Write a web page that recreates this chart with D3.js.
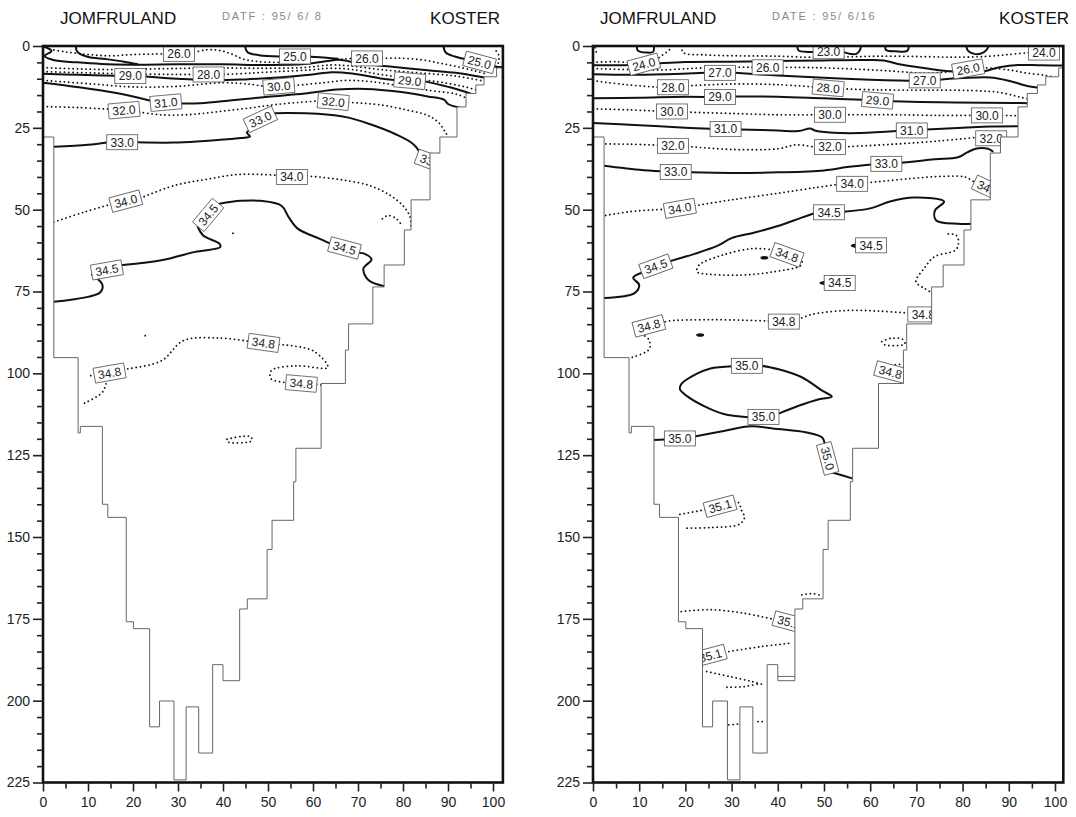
<!DOCTYPE html>
<html>
<head>
<meta charset="utf-8">
<script src="https://cdnjs.cloudflare.com/ajax/libs/d3/7.8.5/d3.min.js"></script>
<style>
body { margin: 0; background: #fff; }
svg { display: block; }
text { font-family: "Liberation Sans", Arial, Helvetica, sans-serif; }
</style>
</head>
<body>
<svg id="chart" width="1076" height="817"></svg>
<script>
// axis ticks
var xTicks = [0, 10, 20, 30, 40, 50, 60, 70, 80, 90, 100];
var xMinorTicks = [5, 15, 25, 35, 45, 55, 65, 75, 85, 95];
var yTicks = [0, 25, 50, 75, 100, 125, 150, 175, 200, 225];
var yMinorTicks = d3.range(0, 226, 5).filter(function(d) { return d % 25 !== 0; });

// bottom profile (step after): distance and depth of each step
var bottomX =     [0, 2.4, 7.8, 8.3, 13.2, 14.4, 18.5, 20.1, 23.7, 25.9, 29.1, 31.8, 34.6, 37.7, 40, 43.7, 45.4, 49.8, 50.9, 55.7, 56.2, 61.8, 67.2,
                   67.9, 73.3, 75.8, 80.3, 81.8, 86.0, 88.2, 92.0, 94.0, 96.2, 98.0, 100.8, 103];
var bottomDepth = [27.8, 95.2, 118.2, 116.2, 140, 144, 175.9, 178, 208, 200.1, 224.2, 201.9, 216, 189, 193.9, 172, 168.9, 153.8, 144.9, 133.1, 122.9, 103.1, 92.9,
                   84.9, 73.6, 66.9, 56.2, 47, 32.7, 27.8, 18.6, 14.5, 11.9, 9.4, 6.7, 6.7];

// 95/6/8 isohalines: [style, points]  s = solid, d = dotted
var june08Lines = [
  ["s", [[0.4,0.3],[1.9,1.5],[0.4,3.0],[2.3,4.3],[7.5,5.0],[13,5.5],[20,5.7],[30,5.6],[40,5.6],[50,5.8],[58.2,5.5],[64.1,4.4],[65.8,4.2],[70.8,5.4],[78.1,6.4],[85.5,7.4],[91.7,8.2],[95.5,9.0],[98.6,9.8]]],
  ["s", [[7.3,0],[7.6,1.7],[9.9,3.3],[14,4.0],[18,4.8],[21,5.6]]],
  ["s", [[44.9,0],[45.4,1.8],[48,2.8],[52.6,3.2]]],
  ["s", [[59.4,3.3],[63,3.6],[65.5,3.9]]],
  ["s", [[89,0],[89.5,2.0],[91.5,3.2],[93.9,4.0]]],
  ["s", [[100.1,6.1],[101,6.4],[103,6.4]]],
  ["d", [[1.5,1.0],[5,1.8],[10,2.6],[15,3.0],[20,2.6],[26.8,2.4]]],
  ["d", [[33.6,2.0],[36,1.2],[39,1.3],[42,2.5],[44.5,4.0],[48,4.8],[53,5.0]]],
  ["d", [[64.5,4.4],[66.5,4.0],[68.6,3.8]]],
  ["d", [[75.4,3.8],[79,3.7],[84,4.2],[88,5.2],[92,6.3],[96,7.6],[98.5,8.5]]],
  ["d", [[100.8,6.5],[101.3,4.5],[101.2,2.5],[100.5,1.2]]],
  ["d", [[0,6.6],[8,7.0],[16,7.2],[24,7.0],[32,6.8],[40,6.7],[48,6.8],[57.6,6.6],[64.1,5.8],[67.6,6.0],[75,7.2],[83.4,8.2],[91.8,9.2],[97.5,10.6]]],
  ["d", [[0,7.8],[10,8.2],[20,8.5],[30,8.7],[33.4,8.7]]],
  ["d", [[40.2,8.7],[46,8.3],[52.3,7.8],[59.4,7.3],[64.1,6.8],[68.7,7.2],[75,8.7],[81.3,9.9],[87.6,10.9],[93.5,12.4],[96.5,13.5]]],
  ["s", [[0,8.5],[8,8.8],[16,9.1]]],
  ["s", [[22.8,9.3],[30,10],[38,10.5],[45,10.2],[52.3,9.6],[59.4,8.8],[64.1,8.0],[68.7,8.4],[75,9.9],[78.1,10.4]]],
  ["s", [[84.9,10.8],[88,11.8],[92,13.2],[95.5,14.8]]],
  ["d", [[0,10.5],[10,11.5],[20,12.5],[30,12.3],[40,11.2],[46,11.7],[49,12.3]]],
  ["d", [[55.8,12.1],[61.7,11.3],[67.6,10.5],[72.9,10.9],[79.2,12.1],[85.5,13.5],[91.8,14.7],[95,16.5]]],
  ["s", [[0,11.2],[8,12.6],[16,14.3],[23.9,16.7]]],
  ["s", [[30.7,17.6],[35,17.5],[42,16.6],[50,15.5],[58.2,14.5],[65.3,13.3],[71.8,13.1],[79.2,14],[85.5,15.4],[89.1,16.4],[90.1,17.8],[92.5,18.8]]],
  ["d", [[0,18.5],[8,18.8],[14.6,19.3]]],
  ["d", [[21.4,20.2],[26,21],[32,21],[38,20.2],[45,19.1],[52.3,17.8],[61.1,16.8]]],
  ["d", [[67.9,17.2],[75,18],[81,19.6],[85.5,21.2],[88,23.5],[89.5,26.5],[90.5,29]]],
  ["s", [[2.4,30.8],[10,30.2],[14.2,29.5]]],
  ["s", [[21,29.4],[29,29.5],[35,29.1],[40.1,28.6],[44,28.1],[46,27.6],[45.3,26.5],[46.5,25.4]]],
  ["s", [[50.5,20.6],[54.2,20.5],[61,20.7],[67.6,21.8],[72.9,24],[78.1,26.8],[82.3,30],[84.2,33.5]]],
  ["s", [[88.3,37.2],[90,38]]],
  ["d", [[2.4,53.8],[9,50.8],[15.2,48.3]]],
  ["d", [[21.6,46.5],[29,42.7],[36.4,40.7],[43.9,39.2],[52,39.5]]],
  ["d", [[58.7,39.7],[66,40.8],[72.5,42.6],[77,45.5],[80,48.8],[81.5,52],[81.8,56]]],
  ["d", [[75.4,52.8],[76.6,51.8],[78.4,52.6],[79.6,54.5]]],
  ["s", [[39.2,48.2],[43.9,47.3],[48.3,47.3],[53,48.8],[54.6,52.3],[56.6,55.8],[61.5,58.9],[63.6,60.2]]],
  ["s", [[70.4,63.2],[71.5,63.5],[73,65.2],[71.2,68],[72.3,71.5],[76.5,73.6]]],
  ["s", [[34.4,55.3],[35.6,57.9],[39.2,60.4],[39.4,61.4],[33.8,62.9],[26.6,65.4],[17.7,66.9]]],
  ["s", [[10.9,69.9],[13.2,72.9],[12.6,75.4],[2.4,78.1]]],
  ["d", [[10.6,100.7],[11,100.5]]],
  ["d", [[17.9,98.8],[19.5,98.5],[26.4,96.1],[31.2,90],[39,89.2],[45.6,90.2]]],
  ["d", [[52.4,91.2],[60,93.1],[63.3,98.2],[56.3,97.7],[50.7,99.2],[50.7,101.7],[54,102.8]]],
  ["d", [[60.8,103.4],[62.5,103.7]]],
  ["d", [[14,103.2],[13.2,105.8],[8.8,109.4]]],
  ["d", [[40.9,120.1],[46.1,119.3],[46.4,120.6],[40.9,120.9],[40.9,120.1]]],
  ["d", [[22.7,88.5],[22.8,88.5]]],
  ["d", [[42.2,57.2],[43,57.8]]]
];
// 95/6/8 labels: [text, x, depth, angle]
var june08Labels = [
  ["26.0", 30.2, 2.4, 0], ["25.0", 56, 3.2, 0], ["26.0", 72, 3.8, 0], ["25.0", 97, 5.0, 15],
  ["29.0", 19.4, 9.2, 0], ["28.0", 36.8, 8.7, 0], ["30.0", 52.4, 12.3, -5], ["29.0", 81.5, 10.6, 5],
  ["31.0", 27.3, 17.3, -5], ["32.0", 18, 19.6, -5], ["32.0", 64.5, 17, 5], ["33.0", 48.3, 22.4, -25],
  ["33.0", 17.6, 29.4, 0], ["33.0", 86.3, 35.3, 20], ["34.0", 55.3, 40, 0], ["34.0", 18.4, 47.4, -15],
  ["34.5", 36.7, 51.6, -50], ["34.5", 67, 61.7, 15], ["34.5", 14.2, 68.4, -10],
  ["34.8", 49, 90.7, 8], ["34.8", 14.8, 99.9, -10], ["34.8", 57.4, 103.1, 5]
];

// 95/6/16 isohalines
var june16Lines = [
  ["d", [[0.5,0.5],[0.8,2.5]]],
  ["d", [[0,5],[5,4.8],[8.2,5.1]]],
  ["d", [[13.6,4.4],[15,2.8],[16.5,1.2],[17,0]]],
  ["d", [[19.2,0],[19.5,2],[24,2.7],[32,3],[40,3.1],[46,3.4],[50,3.3],[56,3.3],[62,3.1],[70,3.2],[78,3.4],[85,3.2],[90,2.6],[94.5,2.0]]],
  ["s", [[44.2,0],[44.5,1.4],[46.5,1.8],[47.8,1.8]]],
  ["s", [[54.2,1.8],[55.5,2.4],[57,2.4],[57.8,1.2],[58,0]]],
  ["s", [[63.3,0],[63.4,1.2],[65.5,1.6],[68,1.5],[68.4,0]]],
  ["s", [[80.8,0],[81.2,1.5],[82.5,2.4],[84,2.3],[85.2,1.2],[85.6,0]]],
  ["s", [[9.5,0],[9.7,1.4],[11.5,2.0],[13,1.8],[13.2,0]]],
  ["s", [[0,5.9],[8,5.8],[14,5.3],[20,4.9],[30,4.8],[40,4.6],[50,4.4],[58,4.3],[63,4.4],[66,5.5],[72,6.8],[78,7.8],[84,7.9],[88,6.5],[92,5.8],[97,5.9],[103,6.0]]],
  ["d", [[0,6.9],[8,7.2],[15,7.3],[22,6.8],[28,6.5],[34.6,6.5]]],
  ["d", [[41,6.5],[48,6.6],[56,7.0],[64,7.6],[72,8.3],[76,8.0],[78.1,7.6]]],
  ["d", [[84.3,6.6],[90,7.3],[94,8.3],[98,9.0],[100,9.6]]],
  ["s", [[0,8.6],[8,8.8],[16,8.6],[24.3,8.2]]],
  ["s", [[30.7,8.2],[40,9],[50,9.7],[60,10.3],[68.6,10.6]]],
  ["s", [[75,10.3],[80,9.8],[86,9.6],[90,10.6],[94,12.2],[97,12.8]]],
  ["d", [[0,10.6],[7,11.8],[14.1,12.6]]],
  ["d", [[20.5,12.2],[30,11.6],[40,11.8],[47.7,12.5]]],
  ["d", [[54.1,13.1],[62,13.4],[72,13.5],[82,13.6],[88,14.2],[93,15.8],[94.5,16.2]]],
  ["s", [[0,16],[10,15.8],[20,15.5],[24.3,15.6]]],
  ["s", [[30.7,15.4],[40,15.5],[50,16],[58.4,16.4]]],
  ["s", [[64.8,16.9],[75,17.2],[85,17.3],[91,17.4],[94.5,17.5]]],
  ["d", [[0,19.2],[8,19.5],[13.9,19.9]]],
  ["d", [[20.3,20.2],[30,20.6],[40,21],[48.1,21]]],
  ["d", [[54.5,21],[65,21],[75,21.2],[82.1,21.2]]],
  ["d", [[88.6,21.2],[92.5,21.3]]],
  ["s", [[0,23.5],[10,24.2],[20,25],[25.5,25.3]]],
  ["s", [[31.9,25.5],[40,25.8],[44.5,26],[47,25.2],[48,25.8],[52,26.5],[58,26.6],[65.8,26]]],
  ["s", [[72.2,25.5],[80,25],[86,24.6],[92.5,24.5]]],
  ["d", [[0,29.9],[8,30],[14.1,30.3]]],
  ["d", [[20.5,30.7],[30,31.6],[40,31.4],[44,30.2],[48.1,30.9]]],
  ["d", [[54.5,30.8],[65,30],[75,29],[82.5,28]]],
  ["s", [[0,36.2],[10,37.8],[14.7,38.3]]],
  ["s", [[21.1,38.6],[30,38.8],[40,38.6],[50,38],[55,37],[60.3,36.2]]],
  ["s", [[66.7,35.7],[74,34.6],[79,34],[81,32.5],[83,31.3],[85.5,31.4],[86.5,32.2]]],
  ["d", [[0,52.5],[8,50.6],[15.6,49.9]]],
  ["d", [[22,48.8],[30,47],[40,45],[48,43.3],[52.9,42.3]]],
  ["d", [[59.3,41.8],[68,40.6],[76,39.8],[80.5,40],[82.5,41.5]]],
  ["s", [[2.4,77],[9,75.5],[10,73],[8.7,70.8],[10.8,69.2]]],
  ["s", [[16.5,65.8],[22,63.5],[27,61],[30,58.7],[35,57],[40,55],[45,52.5],[47.9,51.1]]],
  ["s", [[54.3,50.6],[60,49.6],[64.3,47.5],[69.5,46.3],[76,47.5],[74,50.3],[74.3,53.3],[79,54.3],[82,54.3]]],
  ["s", [[57.3,60.5],[56,61],[57.3,61.5]]],
  ["s", [[50.3,72],[49.2,72.4],[50.3,72.8]]],
  ["d", [[39,62.3],[34.6,61.9],[28,63.9],[22.9,67],[22.5,69],[23.6,69.5],[31.7,70],[39,69],[45,67],[45.3,65.5]]],
  ["d", [[76.9,57.4],[78.7,57.9],[79.1,60.4],[78.4,62.4],[73.9,64.4],[71.7,67.9],[69.9,72],[71.7,74],[73.5,75.5]]],
  ["d", [[68.3,81.6],[62.1,81],[54.8,80.8],[47.4,82],[44.5,83.5]]],
  ["d", [[38,84],[25.4,83.6],[16.5,84],[15,84.5]]],
  ["d", [[9.5,87.5],[12,89.5],[12.2,92.6],[8.5,95.1]]],
  ["d", [[62.5,90.3],[64.5,89.3],[67,89.6],[67.5,91],[64,91.5],[62.5,91]]],
  ["d", [[64.5,97.5],[67,97.2]]],
  ["s", [[36.5,97.7],[40,98.7],[45.2,101.2],[49.6,105.3],[51.7,107.1],[48.9,107.9],[44.5,109.9],[40.2,112.3]]],
  ["s", [[33.6,113.4],[28.3,112.4],[24.6,110.4],[20.2,106.8],[18.8,104.8],[19.1,103.3],[22.4,100.2],[25.4,98.5],[30.1,97.8]]],
  ["s", [[13.2,120.4],[15.6,120.2]]],
  ["s", [[22,119.3],[28.3,117.6],[34.2,116.2],[40,117],[46,118],[49.6,119.6],[50.2,121.5]]],
  ["s", [[51.6,130.2],[52.6,130.6],[56.1,132.1]]],
  ["d", [[18.8,143.1],[24.5,141.6]]],
  ["d", [[30.6,139.1],[31.5,139.5],[32.2,142],[32.8,144],[31.7,146.1],[25.4,147.1],[19.5,147.3]]],
  ["d", [[19.1,172.8],[25.4,172.2],[32.7,173.3],[38.6,175]]],
  ["d", [[29.4,185],[36.4,183.5],[43,182.4]]],
  ["d", [[24.6,191.1],[29.8,192.7],[34.5,194.2],[37.1,195.2]]],
  ["d", [[29,195.9],[32.7,195.7],[35.7,194.9]]],
  ["d", [[29.4,207.4],[32,207.1]]],
  ["d", [[35.7,206.4],[36.8,206.4]]],
  ["d", [[45.2,167.7],[47.4,167.3],[48.9,167.7]]],
  ["t", [[37.9,192.6],[37.9,197.8]]],
  ["t", [[40,192.6],[43.7,192.6]]]
];
var june16Labels = [
  ["23.0", 51, 1.6, 0], ["24.0", 11, 5.6, -15], ["24.0", 97.6, 2.0, 0],
  ["26.0", 37.8, 6.5, 0], ["26.0", 81.2, 7.0, -10], ["27.0", 27.5, 8.2, 0], ["27.0", 71.8, 10.5, 0],
  ["28.0", 17.3, 12.6, 0], ["28.0", 50.9, 12.8, 5], ["29.0", 27.5, 15.6, 0], ["29.0", 61.6, 16.6, 5],
  ["30.0", 17.1, 20, 0], ["30.0", 51.3, 21, 0], ["30.0", 85.3, 21.2, 0],
  ["31.0", 28.7, 25.4, 0], ["31.0", 69, 25.8, 0], ["32.0", 86.2, 28.2, 0],
  ["32.0", 17.3, 30.5, 0], ["32.0", 51.3, 30.9, 0], ["33.0", 17.9, 38.5, 0], ["33.0", 63.5, 36, 0],
  ["34.0", 56.1, 42.1, 0], ["34.0", 18.8, 49.6, -10], ["34.0", 85.6, 43.5, 25],
  ["34.5", 51.1, 50.8, 0], ["34.5", 13.6, 67.3, -20], ["34.8", 42, 63.8, 20],
  ["34.5", 60.2, 60.9, 0], ["34.5", 53.4, 72.4, 0], ["34.8", 71.5, 82, 0],
  ["34.8", 41.3, 84.2, 0], ["34.8", 12.1, 85.5, -15], ["34.8", 64.4, 99.6, 15],
  ["35.0", 33.3, 97.7, 0], ["35.0", 36.9, 113.3, 0], ["35.0", 18.8, 119.9, 0], ["35.0", 50.8, 126, 75],
  ["35.1", 27.5, 140.6, -15], ["35.1", 42.4, 176, 15], ["35.1", 25.4, 186.2, -15]
];
// blobs: [x, depth]
var june16Blobs = [[37.1, 64.7], [23.2, 88.3]];

var svg = d3.select("#chart");

var panels = [
  {left: 43, right: 502.9, xMax: 102.2, lines: june08Lines, labels: june08Labels, blobs: [],
   date: "DATF : 95/ 6/ 8", titleX: 60, dateX: 222, kosterX: 500},
  {left: 593, right: 1063.3, xMax: 101.8, lines: june16Lines, labels: june16Labels, blobs: june16Blobs,
   date: "DATE : 95/ 6/16", titleX: 600, dateX: 772, kosterX: 1069}
];

var plotTop = 46, plotBottom = 782.5;

panels.forEach(function(p, i) {
  var x = d3.scaleLinear().domain([0, p.xMax]).range([p.left, p.right]);
  var y = d3.scaleLinear().domain([0, 225]).range([plotTop, plotBottom]);
  var g = svg.append("g");

  g.append("clipPath").attr("id", "clip" + i)
    .append("rect")
    .attr("x", x(0)).attr("y", y(0))
    .attr("width", x(p.xMax) - x(0)).attr("height", y(225) - y(0));

  var plot = g.append("g").attr("clip-path", "url(#clip" + i + ")");

  var line = d3.line()
    .x(function(d) { return x(d[0]); })
    .y(function(d) { return y(d[1]); })
    .curve(d3.curveCatmullRom.alpha(0.5));

  plot.selectAll(".iso")
    .data(p.lines)
    .enter().append("path")
    .attr("d", function(d) { return line(d[1]); })
    .attr("fill", "none")
    .attr("stroke", function(d) { return d[0] === "t" ? "#666" : "#111"; })
    .attr("stroke-width", function(d) { return d[0] === "s" ? 2 : (d[0] === "t" ? 1 : 1.8); })
    .attr("stroke-dasharray", function(d) { return d[0] === "d" ? "0.1,4.2" : null; })
    .attr("stroke-linecap", "round")
    .attr("stroke-linejoin", "round");

  plot.selectAll(".blob")
    .data(p.blobs)
    .enter().append("ellipse")
    .attr("cx", function(d) { return x(d[0]); })
    .attr("cy", function(d) { return y(d[1]); })
    .attr("rx", 4).attr("ry", 1.8)
    .attr("fill", "#111");

  var lab = plot.selectAll(".lab")
    .data(p.labels)
    .enter().append("g")
    .attr("transform", function(d) {
      return "translate(" + x(d[1]) + "," + y(d[2]) + ") rotate(" + d[3] + ")";
    });
  lab.append("rect")
    .attr("x", -15.5).attr("y", -7.5)
    .attr("width", 31).attr("height", 15)
    .attr("fill", "#fff")
    .attr("stroke", "#555")
    .attr("stroke-width", 0.8);
  lab.append("text")
    .attr("text-anchor", "middle")
    .attr("dy", "0.36em")
    .attr("font-size", 12)
    .attr("fill", "#222")
    .text(function(d) { return d[0]; });

  // sea floor: white below the bottom, thin grey outline
  var bottomPts = bottomX.map(function(v, k) { return [v, bottomDepth[k]]; });
  var area = d3.area()
    .x(function(d) { return x(d[0]); })
    .y0(y(225))
    .y1(function(d) { return y(d[1]); })
    .curve(d3.curveStepAfter);
  plot.append("path").attr("d", area(bottomPts)).attr("fill", "#fff");
  var floorLine = d3.line()
    .x(function(d) { return x(d[0]); })
    .y(function(d) { return y(d[1]); })
    .curve(d3.curveStepAfter);
  plot.append("path").attr("d", floorLine(bottomPts))
    .attr("fill", "none").attr("stroke", "#666").attr("stroke-width", 1);

  // frame
  g.append("rect")
    .attr("x", x(0)).attr("y", y(0))
    .attr("width", x(p.xMax) - x(0)).attr("height", y(225) - y(0))
    .attr("fill", "none").attr("stroke", "#111").attr("stroke-width", 2.6);

  // axes
  var yAxis = g.append("g").attr("transform", "translate(" + x(0) + ",0)")
    .call(d3.axisLeft(y).tickValues(yTicks).tickSize(10).tickPadding(3));
  var yMinor = g.append("g").attr("transform", "translate(" + x(0) + ",0)")
    .call(d3.axisLeft(y).tickValues(yMinorTicks).tickSize(6).tickFormat(""));
  var xAxis = g.append("g").attr("transform", "translate(0," + y(225) + ")")
    .call(d3.axisBottom(x).tickValues(xTicks).tickSize(9).tickPadding(6));
  var xMinor = g.append("g").attr("transform", "translate(0," + y(225) + ")")
    .call(d3.axisBottom(x).tickValues(xMinorTicks).tickSize(6).tickFormat(""));
  [yAxis, yMinor, xAxis, xMinor].forEach(function(a) {
    a.select(".domain").remove();
    a.selectAll("line").attr("stroke", "#222").attr("stroke-width", 1.6);
    a.selectAll("text").attr("font-size", 14).attr("fill", "#222")
      .attr("font-family", "\"Liberation Sans\", Arial, sans-serif");
  });

  // header
  g.append("text").attr("x", p.titleX).attr("y", 24)
    .attr("font-size", 17).attr("fill", "#111")
    .text("JOMFRULAND");
  g.append("text").attr("x", p.dateX).attr("y", 20)
    .attr("font-size", 11).attr("fill", "#888").attr("letter-spacing", 1.8)
    .style("white-space", "pre")
    .text(p.date);
  g.append("text").attr("x", p.kosterX).attr("y", 24)
    .attr("text-anchor", "end")
    .attr("font-size", 17).attr("fill", "#111")
    .text("KOSTER");
});
</script>
</body>
</html>
